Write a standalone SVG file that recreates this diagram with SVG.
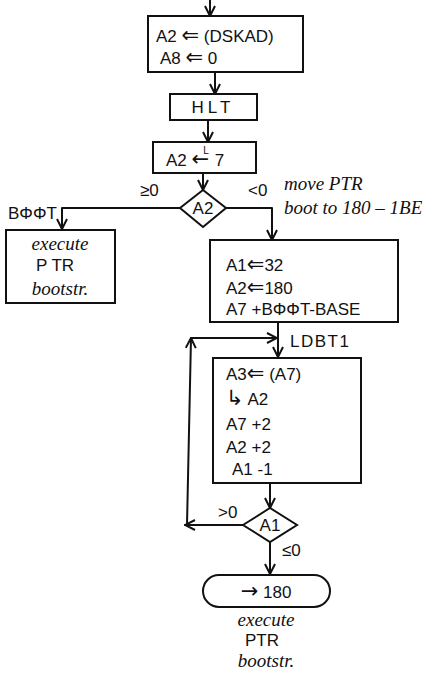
<svg xmlns="http://www.w3.org/2000/svg" width="446" height="678" viewBox="0 0 446 678">
<style>
.s{fill:none;stroke:#111;stroke-width:2;stroke-linejoin:round;stroke-linecap:round}
.b{fill:#fff;stroke:#111;stroke-width:2}
text{font-family:"Liberation Sans","DejaVu Sans",sans-serif;font-size:17px;fill:#111}
.c{font-family:"Liberation Serif","DejaVu Serif",serif;font-style:italic;font-size:19px}
.m{text-anchor:middle}
.a{font-family:"DejaVu Sans",sans-serif;font-size:21px}
</style>
<defs>
<marker id="ah" viewBox="0 0 12 12" refX="11" refY="6" markerWidth="12" markerHeight="12" markerUnits="userSpaceOnUse" orient="auto">
<path d="M1,1 L11,6 L1,11" fill="none" stroke="#111" stroke-width="2"/>
</marker>
</defs>
<rect width="446" height="678" fill="#fff"/>
<g id="connectors">
<path class="s" d="M210,0 L210,16" marker-end="url(#ah)"/>
<path class="s" d="M215,72 L215,94" marker-end="url(#ah)"/>
<path class="s" d="M208,120 L208,142" marker-end="url(#ah)"/>
<path class="s" d="M203,173 L203,190" marker-end="url(#ah)"/>
<path class="s" d="M180,208 L62,208 L62,229" marker-end="url(#ah)"/>
<path class="s" d="M226,208 L272,208 L272,240" marker-end="url(#ah)"/>
<path class="s" d="M278,322 L278,357" marker-end="url(#ah)"/>
<path class="s" d="M270,483 L270,508" marker-end="url(#ah)"/>
<path class="s" d="M243,525 L185,525" marker-end="url(#ah)"/>
<path class="s" d="M187,525 L191,338" marker-end="url(#ah)"/>
<path class="s" d="M191,338 L277,338" marker-end="url(#ah)"/>
<path class="s" d="M270,542 L270,574" marker-end="url(#ah)"/>
<text x="140" y="196">≥0</text>
<text x="248" y="196">&lt;0</text>
<text x="8" y="219">BΦΦT</text>
<text class="c" x="284" y="190" font-size="15">move PTR</text>
<text class="c" x="284" y="214">boot to 180 – 1BE</text>
<text x="290" y="347" letter-spacing="1.5">LDBT1</text>
<text x="218" y="518">&gt;0</text>
<text x="282" y="556">≤0</text>
</g>
<g id="n1">
<rect class="b" x="148" y="16" width="155" height="56"/>
<text x="156" y="42">A2 <tspan class="a">⇐</tspan> (DSKAD)</text>
<text x="160" y="64" font-size="15">A8 <tspan class="a" font-size="18">⇐</tspan> 0</text>
</g>
<g id="n2">
<rect class="b" x="170" y="94" width="87" height="26"/>
<text class="m" x="213" y="113" letter-spacing="4">HLT</text>
</g>
<g id="n3">
<rect class="b" x="153" y="142" width="103" height="31"/>
<text x="166" y="166">A2 <tspan class="a" font-size="20">←</tspan><tspan font-size="10" dx="-6" dy="-12">L</tspan><tspan dx="6" dy="12">7</tspan></text>
</g>
<g id="d1">
<path class="b" d="M180,208 L203,190 L226,208 L203,227 Z"/>
<text class="m" x="203" y="214" font-size="15">A2</text>
</g>
<g id="n4">
<rect class="b" x="6" y="230" width="109" height="73"/>
<text class="c m" x="60" y="250">execute</text>
<text class="m" x="55" y="271" font-size="14">P TR</text>
<text class="c m" x="60" y="295">bootstr.</text>
</g>
<g id="n5">
<rect class="b" x="210" y="240" width="188" height="82"/>
<text x="226" y="271" font-size="20">A1<tspan class="a" font-size="22">⇐</tspan>32</text>
<text x="226" y="294" font-size="20">A2<tspan class="a" font-size="22">⇐</tspan>180</text>
<text x="226" y="315">A7 +BΦΦT-BASE</text>
</g>
<g id="n6">
<rect class="b" x="213" y="358" width="148" height="125"/>
<text x="226" y="380" font-size="18">A3<tspan class="a" font-size="22">⇐</tspan> (A7)</text>
<text x="226" y="405" font-size="18"><tspan class="a" font-size="24">↳</tspan>   A2</text>
<text x="226" y="430" font-size="18">A7 +2</text>
<text x="226" y="453" font-size="18">A2 +2</text>
<text x="232" y="475" font-size="18">A1 -1</text>
</g>
<g id="d2">
<path class="b" d="M243,525 L270,508 L297,525 L270,542 Z"/>
<text class="m" x="270" y="531" font-size="15">A1</text>
</g>
<g id="n7">
<rect class="b" x="203" y="575" width="127" height="32" rx="16"/>
<text class="m" x="266" y="598" font-size="20"><tspan class="a" font-size="24">→</tspan> 180</text>
<text class="c m" x="266" y="626">execute</text>
<text class="m" x="262" y="646" font-size="13">PTR</text>
<text class="c m" x="266" y="667">bootstr.</text>
</g>
</svg>
